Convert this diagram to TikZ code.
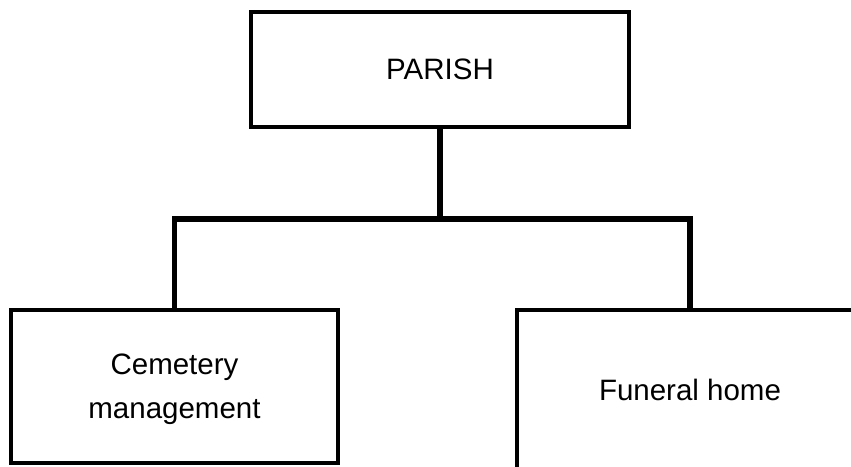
\documentclass[tikz,border=0pt]{standalone}
\usepackage{fontspec}
\setmainfont{Liberation Sans}
\usetikzlibrary{positioning}

\begin{document}
\begin{tikzpicture}[x=1pt, y=1pt, font=\fontsize{29.5}{44}\selectfont]
\tikzset{unit/.style={draw, line width=4.5pt, align=center, inner sep=0pt}}
\tikzset{link/.style={line width=5.5pt}}
\useasboundingbox (0,0) rectangle (851,-466);
\clip (0,0) rectangle (851,-466);

\node[unit, minimum width=378pt, minimum height=115pt] (parish) at (440,-69.5) {PARISH};
\node[unit, minimum width=327pt, minimum height=153pt, text depth=0pt] (cem) at (174.5,-386.5) {Cemetery\\management};
\node[unit, minimum width=346pt, minimum height=160pt] (fun) at (690,-390) {Funeral home};

\coordinate (join) at (440,-219);
\draw[link] (parish.south) -- (join);
\draw[link] (cem.north) |- (join) -| (fun.north);

\end{tikzpicture}
\end{document}
